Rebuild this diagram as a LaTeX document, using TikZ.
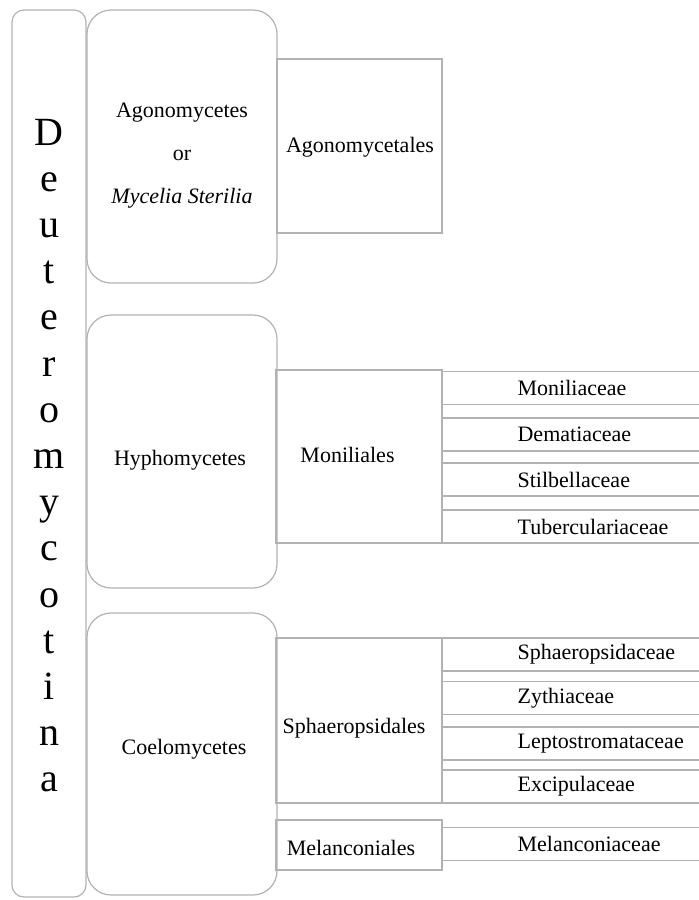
\documentclass[tikz,border=0pt]{standalone}
\usepackage{fontspec}
\setmainfont{Liberation Serif}
\usetikzlibrary{positioning}
\begin{document}
\begin{tikzpicture}[x=1pt,y=-1pt,
  frame/.style={draw=black!30,line width=1.2pt,inner sep=0pt},
  classbox/.style={frame,rounded corners=24pt,minimum width=190pt},
  ordbox/.style={frame,minimum width=166pt},
  fambox/.style={frame,anchor=west,minimum height=33pt,inner xsep=75pt,text width=200pt,align=left,font=\fontsize{22}{26}\selectfont},
  lbl/.style={anchor=base,inner sep=0pt,align=center,font=\fontsize{22}{26}\selectfont}]
\useasboundingbox (0,0) rectangle (699,900);
\clip (0,0) rectangle (699,900);
% division
\node[frame,rounded corners=12pt,minimum width=74pt,minimum height=887pt] (DEU) at (49,453.5) {};
\foreach \l [count=\i] in {D,e,u,t,e,r,o,m,y,c,o,t,i,n,a}
  \node[anchor=base,inner sep=0pt,font=\fontsize{40}{40}\selectfont] (CH\i) at (49,{145+46.2*(\i-1)}) {\l};
% classes
\node[classbox,minimum height=273pt] (AGONO) at (182,146.5) {};
\node[classbox,minimum height=273pt] (HYPHO) at (182,451.5) {};
\node[classbox,minimum height=282pt] (COELO) at (182,754) {};
\node[lbl,font=\fontsize{22}{43}\selectfont] (AGONOtxt) at (182,203) {Agonomycetes\\or\\\textit{Mycelia Sterilia}};
\node[lbl] (HYPHOtxt) at (180,465) {Hyphomycetes};
\node[lbl] (COELOtxt) at (184,754) {Coelomycetes};
% orders
\node[ordbox,minimum width=165pt,minimum height=174pt] (AGONOord) at (359.5,146) {};
\node[ordbox,minimum height=173pt] (MONIord) at (359,456.5) {};
\node[ordbox,minimum height=165pt] (SPHAEord) at (359,720.5) {};
\node[ordbox,minimum height=50pt] (MELANord) at (359,845) {};
\node[lbl] (AGONOordtxt) at (360,152) {Agonomycetales};
\node[lbl] (MONIordtxt) at (347.5,462) {Moniliales};
\node[lbl] (SPHAEordtxt) at (354,733) {Sphaeropsidales};
\node[lbl] (MELANordtxt) at (351,855) {Melanconiales};
% families
\node[fambox] (FAM1) at (442,388) {Moniliaceae};
\node[fambox] (FAM2) at (442,434.5) {Dematiaceae};
\node[fambox] (FAM3) at (442,479.5) {Stilbellaceae};
\node[fambox] (FAM4) at (442,526.5) {Tuberculariaceae};
\node[fambox] (FAM5) at (442,654.5) {Sphaeropsidaceae};
\node[fambox] (FAM6) at (442,698) {Zythiaceae};
\node[fambox] (FAM7) at (442,743.5) {Leptostromataceae};
\node[fambox] (FAM8) at (442,786.5) {Excipulaceae};
\node[fambox] (FAM9) at (442,844) {Melanconiaceae};
\end{tikzpicture}
\end{document}
